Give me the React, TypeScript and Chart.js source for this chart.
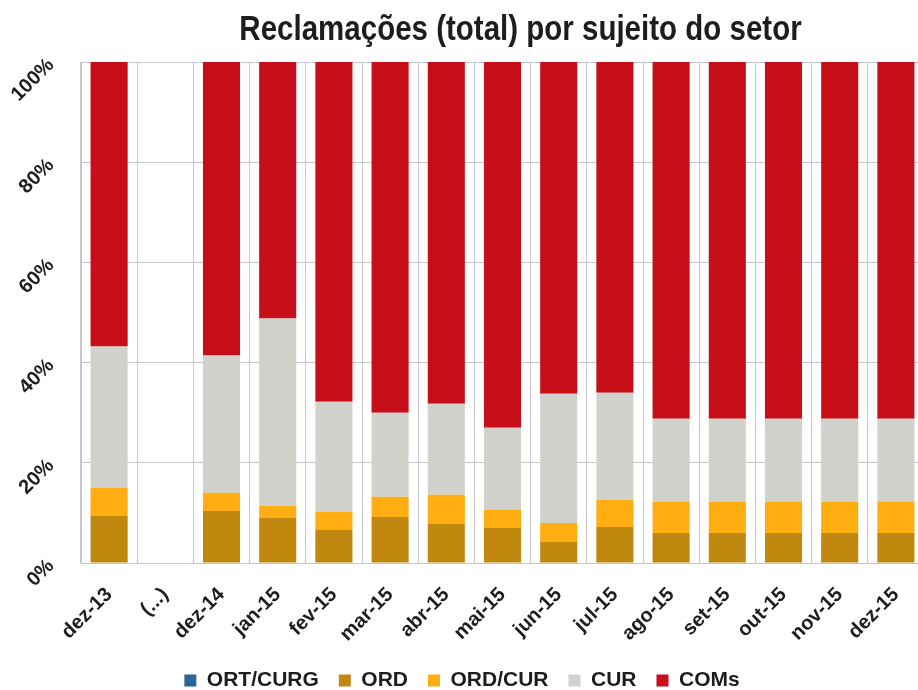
import React, { useEffect, useRef } from 'react';
import { Chart, registerables } from 'chart.js';

Chart.register(...registerables);

const FONT = '"Liberation Sans", Arial, sans-serif';

const TITLE = 'Reclamações (total) por sujeito do setor';

const categories = [
  'dez-13', '(...)', 'dez-14', 'jan-15', 'fev-15', 'mar-15', 'abr-15', 'mai-15',
  'jun-15', 'jul-15', 'ago-15', 'set-15', 'out-15', 'nov-15', 'dez-15',
];

const ortCurg = [0, null, 0, 0, 0, 0, 0, 0, 0, 0, 0, 0, 0, 0, 0];
const ord = [9.4, null, 10.4, 9.0, 6.6, 9.2, 7.8, 7.0, 4.2, 7.2, 6.0, 6.0, 6.0, 6.0, 6.0];
const ordCur = [5.6, null, 3.6, 2.4, 3.6, 4.0, 5.8, 3.6, 3.8, 5.4, 6.2, 6.2, 6.2, 6.2, 6.2];
const cur = [28.2, null, 27.4, 37.4, 22.0, 16.8, 18.2, 16.4, 25.8, 21.4, 16.6, 16.6, 16.6, 16.6, 16.6];
const coms = [56.8, null, 58.6, 51.2, 67.8, 70.0, 68.2, 73.0, 66.2, 66.0, 71.2, 71.2, 71.2, 71.2, 71.2];

const yTicks = [0, 20, 40, 60, 80, 100];

const seriesNames = ['ORT/CURG', 'ORD', 'ORD/CUR', 'CUR', 'COMs'];
const seriesColors = ['#2b6698', '#c0880f', '#ffad10', '#d2d2cd', '#c60f19'];

const titlePlugin = {
  id: 'stretchedTitle',
  afterDraw(chart: any) {
    const { ctx, chartArea } = chart;
    ctx.save();
    ctx.font = `bold 29.5px ${FONT}`;
    ctx.fillStyle = '#1d1d1d';
    ctx.textAlign = 'center';
    ctx.textBaseline = 'alphabetic';
    ctx.translate((chartArea.left + chartArea.right) / 2 + 18, 40);
    ctx.scale(1, 1.2);
    ctx.fillText(TITLE, 0, 0);
    ctx.restore();
  },
};

export default function App() {
  const canvasRef = useRef<HTMLCanvasElement | null>(null);

  useEffect(() => {
    document.body.style.margin = '0';
    document.body.style.overflow = 'hidden';
    const canvas = canvasRef.current;
    if (!canvas) return;
    const seriesData = [ortCurg, ord, ordCur, cur, coms];
    const chart = new Chart(canvas, {
      type: 'bar',
      data: {
        labels: categories,
        datasets: seriesNames.map((name, i) => ({
          label: name,
          data: seriesData[i] as any,
          backgroundColor: seriesColors[i],
          borderWidth: 0,
          barPercentage: 0.66,
          categoryPercentage: 1,
        })),
      },
      plugins: [titlePlugin],
      options: {
        responsive: false,
        animation: false,
        layout: { padding: { top: 62, left: 0, right: 0, bottom: -11 } },
        plugins: {
          tooltip: { enabled: false },
          title: { display: false },
          legend: {
            position: 'bottom',
            labels: {
              boxWidth: 12,
              boxHeight: 12,
              padding: 20,
              color: '#1d1d1d',
              font: { family: FONT, size: 21, weight: 'bold' },
            },
          },
        },
        scales: {
          x: {
            stacked: true,
            grid: {
              display: true,
              offset: true,
              color: '#c6c6ce',
              lineWidth: 1,
              drawTicks: true,
              tickLength: 20,
              tickColor: 'rgba(0,0,0,0)',
            },
            border: { display: true, color: '#c6c6ce' },
            ticks: {
              autoSkip: false,
              minRotation: 45,
              maxRotation: 45,
              padding: 0,
              color: '#1d1d1d',
              font: { family: FONT, size: 20, weight: 'bold' },
            },
            afterFit: (scale: any) => { scale.height = 87; },
          },
          y: {
            stacked: true,
            min: 0,
            max: 100,
            grid: { color: '#c6c6ce', lineWidth: 1, drawTicks: false },
            border: { display: true, color: '#c6c6ce' },
            afterBuildTicks: (scale: any) => { scale.ticks = yTicks.map((v) => ({ value: v })); },
            ticks: {
              minRotation: 45,
              maxRotation: 45,
              padding: 30,
              color: '#1d1d1d',
              font: { family: FONT, size: 20, weight: 'bold' },
              callback: (v: any) => v + '%',
            },
            afterFit: (scale: any) => { scale.width = 81; },
          },
        },
      },
    });
    return () => chart.destroy();
  }, []);

  return (
    <div style={{ width: 918, height: 690, overflow: 'hidden', background: '#fff' }}>
      <canvas ref={canvasRef} width={924} height={690} style={{ display: 'block' }} />
    </div>
  );
}
